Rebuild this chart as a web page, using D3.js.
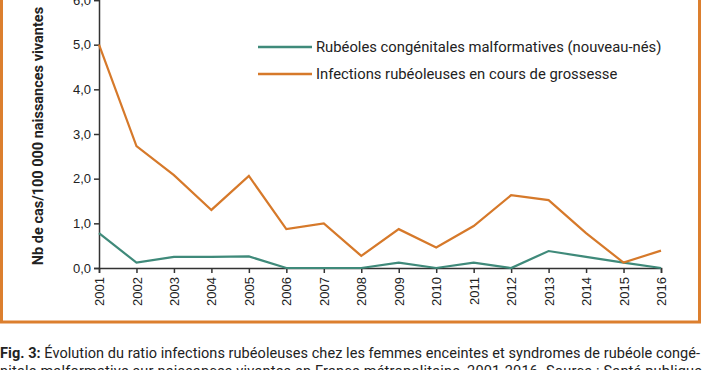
<!DOCTYPE html>
<html>
<head>
<meta charset="utf-8">
<script src="https://cdn.jsdelivr.net/npm/d3@7"></script>
<style>
  html, body { margin: 0; padding: 0; background: #fff; }
  svg { display: block; font-family: Roboto, "Noto Sans", sans-serif; }
</style>
</head>
<body>
<div class="content"></div>
<script>
var years = ['2001','2002','2003','2004','2005','2006','2007','2008',
  '2009','2010','2011','2012','2013','2014','2015','2016'];
var congenital = [0.78, 0.12, 0.25, 0.25, 0.26, 0, 0, 0, 0.12, 0, 0.12, 0, 0.38, 0.25, 0.12, 0];
var pregnancy = [5.0, 2.73, 2.08, 1.30, 2.06, 0.87, 1.0, 0.27, 0.87, 0.46, 0.94, 1.63, 1.52, 0.78, 0.12, 0.39];
var yTicks = [0, 1, 2, 3, 4, 5, 6];
var seriesNames = ['Rubéoles congénitales malformatives (nouveau-nés)',
  'Infections rubéoleuses en cours de grossesse'];
var seriesColors = ['#3f8a7a', '#d6792a'];

var svgWidth = 702, svgHeight = 370;
var svg = d3.select('.content')
  .append('svg')
  .attr('width', svgWidth)
  .attr('height', svgHeight);

// orange frame (top is outside the picture)
svg.append('rect')
  .attr('x', 1.5)
  .attr('y', -20)
  .attr('width', 698)
  .attr('height', 342)
  .attr('fill', 'none')
  .attr('stroke', '#dc7f2e')
  .attr('stroke-width', 3);

var margin = {left: 99, top: 0},
  width = 661 - 99,
  height = 268;

var g = svg.append('g')
  .attr('transform', 'translate(' + margin.left + ',' + margin.top + ')');

var x = d3.scalePoint().range([0, width]).domain(years);
var y = d3.scaleLinear().range([height, 0]).domain([0, 6]);

var fmt = function(d) { return d3.format('.1f')(d).replace('.', ','); };

var axis_y = g.append('g')
  .call(d3.axisLeft(y).tickValues(yTicks).tickFormat(fmt).tickSize(5).tickPadding(3));
axis_y.select('.domain').attr('stroke', '#333').attr('stroke-width', 1.5);
axis_y.selectAll('line').attr('stroke', '#333').attr('stroke-width', 1.5);
axis_y.selectAll('text').attr('fill', '#222').style('font-size', '13px');

var axis_x = g.append('g')
  .attr('transform', 'translate(0,' + height + ')')
  .call(d3.axisBottom(x).tickSize(5));
axis_x.select('.domain').attr('stroke', '#333').attr('stroke-width', 1.5);
axis_x.selectAll('line').attr('stroke', '#333').attr('stroke-width', 1.5);
axis_x.selectAll('text')
  .attr('fill', '#222')
  .style('font-size', '13px')
  .attr('transform', 'rotate(-90)')
  .attr('x', -9)
  .attr('y', 0)
  .attr('dy', '0.35em')
  .attr('text-anchor', 'end');

// y axis title
svg.append('text')
  .attr('transform', 'translate(43,136) rotate(-90)')
  .attr('text-anchor', 'middle')
  .style('font-size', '14.5px')
  .style('font-weight', 'bold')
  .attr('fill', '#222')
  .text('Nb de cas/100 000 naissances vivantes');

var line = d3.line()
  .x(function(d, i) { return x(years[i]); })
  .y(function(d) { return y(d); });

[congenital, pregnancy].forEach(function(s, i) {
  g.append('path')
    .datum(s)
    .attr('d', line)
    .attr('fill', 'none')
    .attr('stroke', seriesColors[i])
    .attr('stroke-width', 2.2)
    .attr('stroke-linejoin', 'miter');
});

// legend
var legend = svg.append('g').attr('transform', 'translate(258,47)');
seriesNames.forEach(function(name, i) {
  var row = legend.append('g').attr('transform', 'translate(0,' + (i * 27) + ')');
  row.append('line')
    .attr('x1', 0).attr('x2', 54)
    .attr('stroke', seriesColors[i])
    .attr('stroke-width', 2.5);
  row.append('text')
    .attr('x', 58)
    .attr('dy', '0.35em')
    .style('font-size', '14.8px')
    .attr('fill', '#222')
    .text(name);
});

// caption
var cap1 = svg.append('text')
  .attr('x', 0).attr('y', 358)
  .attr('textLength', 700)
  .attr('lengthAdjust', 'spacing')
  .style('font-size', '14.5px')
  .attr('fill', '#222');
cap1.append('tspan').style('font-weight', 'bold').text('Fig. 3: ');
cap1.append('tspan').text('Évolution du ratio infections rubéoleuses chez les femmes enceintes et syndromes de rubéole congé-');

svg.append('text')
  .attr('x', 0).attr('y', 376)
  .attr('textLength', 702)
  .attr('lengthAdjust', 'spacing')
  .style('font-size', '14.5px')
  .attr('fill', '#222')
  .text('nitale malformative sur naissances vivantes en France métropolitaine, 2001-2016. Source : Santé publique');
</script>
</body>
</html>
